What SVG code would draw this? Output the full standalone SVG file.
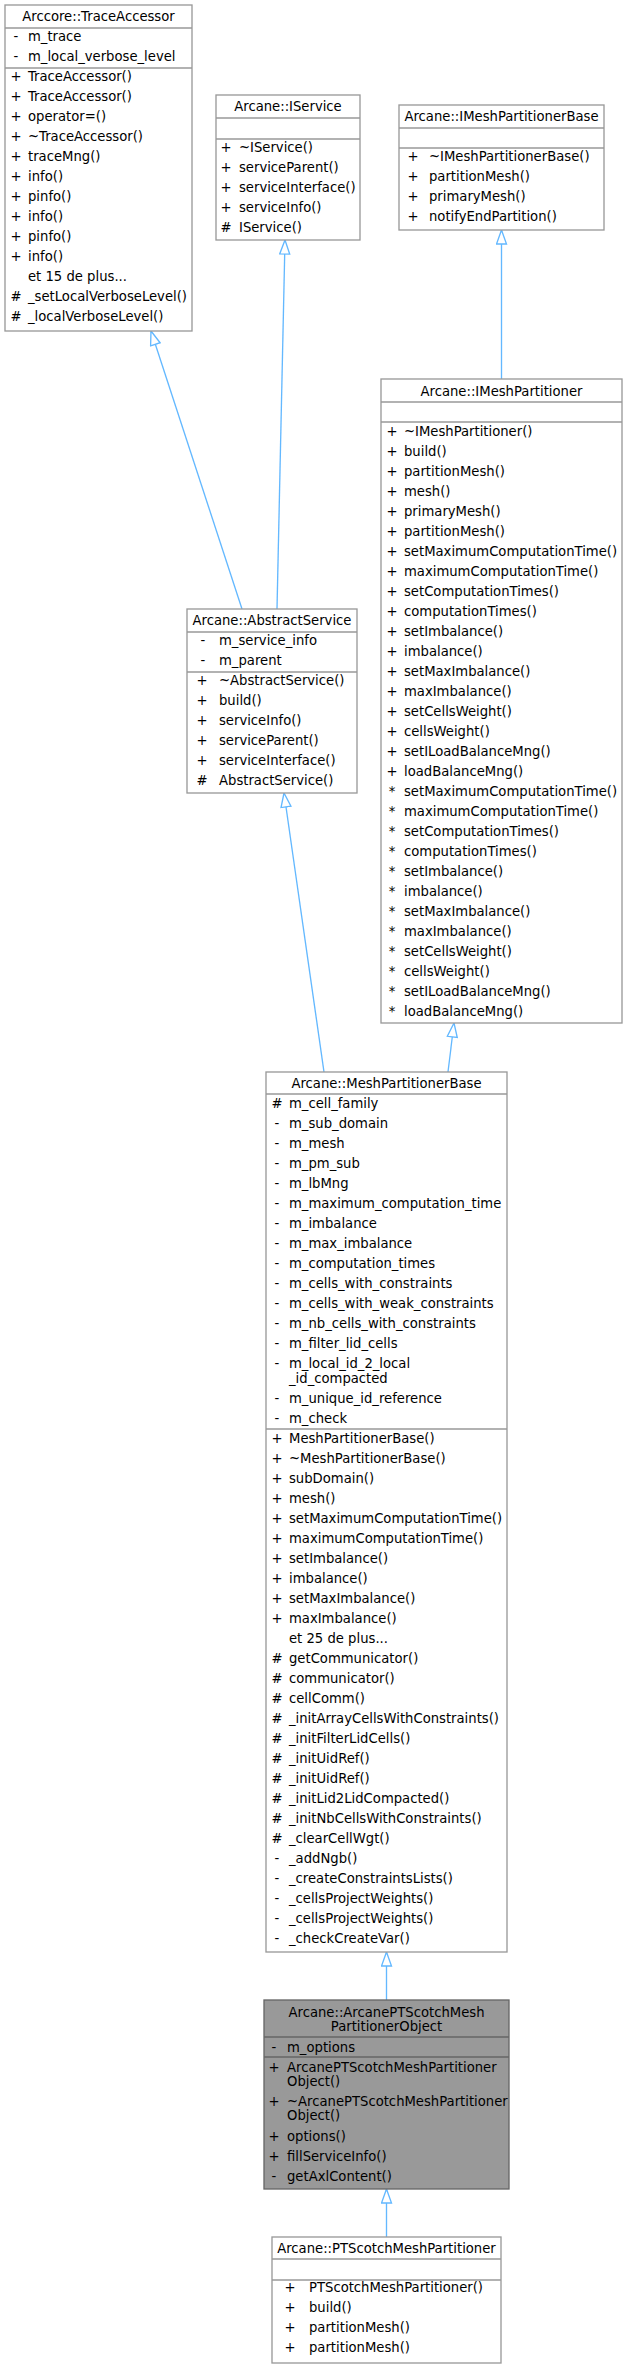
<svg xmlns="http://www.w3.org/2000/svg" width="627" height="2368" viewBox="0 0 627 2368">
<style>
.bx{fill:#ffffff;stroke:#999999;stroke-width:1.33}
.hl{fill:#999999;stroke:#666666;stroke-width:1.33}
.dv{stroke:#999999;stroke-width:1.33}
.dh{stroke:#666666;stroke-width:1.33}
text{font-family:"DejaVu Sans","Liberation Sans",sans-serif;font-size:13.2px;fill:#000000}
.c{text-anchor:middle}
.e{stroke:#63b8ff;stroke-width:1.33;fill:none;marker-end:url(#arr)}
</style>
<defs>
<marker id="arr" markerUnits="userSpaceOnUse" viewBox="-1 -1 16 12" markerWidth="16" markerHeight="12" refX="14" refY="5" orient="auto">
<path d="M14,5 L0,0 L0,10 Z" fill="#ffffff" stroke="#63b8ff" stroke-width="1.33"/>
</marker>
</defs>
<g id="edges">
<line class="e" x1="242" y1="609" x2="151" y2="331"/>
<line class="e" x1="277" y1="609" x2="285" y2="240"/>
<line class="e" x1="501.5" y1="379" x2="501.5" y2="230"/>
<line class="e" x1="324" y1="1072" x2="284" y2="793"/>
<line class="e" x1="448" y1="1072" x2="454" y2="1023"/>
<line class="e" x1="386.5" y1="2000" x2="386.5" y2="1952"/>
<line class="e" x1="386.5" y1="2237" x2="386.5" y2="2189"/>
</g>
<g id="TraceAccessor">
<rect class="bx" x="5" y="5" width="187" height="326"/>
<line class="dv" x1="5" y1="28" x2="192" y2="28"/>
<line class="dv" x1="5" y1="68" x2="192" y2="68"/>
<text class="c" x="98.5" y="21">Arccore::TraceAccessor</text>
<g class="c"><text class="c" x="16" y="41">-</text><text class="c" x="16" y="61">-</text>
<text class="c" x="16" y="81">+</text><text class="c" x="16" y="101">+</text><text class="c" x="16" y="121">+</text><text class="c" x="16" y="141">+</text><text class="c" x="16" y="161">+</text><text class="c" x="16" y="181">+</text><text class="c" x="16" y="201">+</text><text class="c" x="16" y="221">+</text><text class="c" x="16" y="241">+</text><text class="c" x="16" y="261">+</text><text class="c" x="16" y="301">#</text><text class="c" x="16" y="321">#</text></g>
<text x="28" y="41">m_trace</text>
<text x="28" y="61">m_local_verbose_level</text>
<text x="28" y="81">TraceAccessor()</text>
<text x="28" y="101">TraceAccessor()</text>
<text x="28" y="121">operator=()</text>
<text x="28" y="141">~TraceAccessor()</text>
<text x="28" y="161">traceMng()</text>
<text x="28" y="181">info()</text>
<text x="28" y="201">pinfo()</text>
<text x="28" y="221">info()</text>
<text x="28" y="241">pinfo()</text>
<text x="28" y="261">info()</text>
<text x="28" y="281">et 15 de plus...</text>
<text x="28" y="301">_setLocalVerboseLevel()</text>
<text x="28" y="321">_localVerboseLevel()</text>
</g>
<g id="IService">
<rect class="bx" x="216" y="95" width="144" height="145"/>
<line class="dv" x1="216" y1="118" x2="360" y2="118"/>
<line class="dv" x1="216" y1="139" x2="360" y2="139"/>
<text class="c" x="288" y="111">Arcane::IService</text>
<text class="c" x="226" y="152">+</text><text class="c" x="226" y="172">+</text><text class="c" x="226" y="192">+</text><text class="c" x="226" y="212">+</text><text class="c" x="226" y="232">#</text>
<text x="239" y="152">~IService()</text>
<text x="239" y="172">serviceParent()</text>
<text x="239" y="192">serviceInterface()</text>
<text x="239" y="212">serviceInfo()</text>
<text x="239" y="232">IService()</text>
</g>
<g id="IMeshPartitionerBase">
<rect class="bx" x="399" y="105" width="205" height="125"/>
<line class="dv" x1="399" y1="128" x2="604" y2="128"/>
<line class="dv" x1="399" y1="148" x2="604" y2="148"/>
<text class="c" x="501.5" y="121">Arcane::IMeshPartitionerBase</text>
<text class="c" x="413" y="161">+</text><text class="c" x="413" y="181">+</text><text class="c" x="413" y="201">+</text><text class="c" x="413" y="221">+</text>
<text x="429" y="161">~IMeshPartitionerBase()</text>
<text x="429" y="181">partitionMesh()</text>
<text x="429" y="201">primaryMesh()</text>
<text x="429" y="221">notifyEndPartition()</text>
</g>
<g id="IMeshPartitioner">
<rect class="bx" x="381" y="379" width="241" height="644"/>
<line class="dv" x1="381" y1="402" x2="622" y2="402"/>
<line class="dv" x1="381" y1="422" x2="622" y2="422"/>
<text class="c" x="501.5" y="395.5">Arcane::IMeshPartitioner</text>
<text class="c" x="392" y="435.5">+</text><text class="c" x="392" y="455.5">+</text><text class="c" x="392" y="475.5">+</text><text class="c" x="392" y="495.5">+</text><text class="c" x="392" y="515.5">+</text><text class="c" x="392" y="535.5">+</text><text class="c" x="392" y="555.5">+</text><text class="c" x="392" y="575.5">+</text><text class="c" x="392" y="595.5">+</text><text class="c" x="392" y="615.5">+</text><text class="c" x="392" y="635.5">+</text><text class="c" x="392" y="655.5">+</text><text class="c" x="392" y="675.5">+</text><text class="c" x="392" y="695.5">+</text><text class="c" x="392" y="715.5">+</text><text class="c" x="392" y="735.5">+</text><text class="c" x="392" y="755.5">+</text><text class="c" x="392" y="775.5">+</text>
<text class="c" x="392" y="795.5">*</text><text class="c" x="392" y="815.5">*</text><text class="c" x="392" y="835.5">*</text><text class="c" x="392" y="855.5">*</text><text class="c" x="392" y="875.5">*</text><text class="c" x="392" y="895.5">*</text><text class="c" x="392" y="915.5">*</text><text class="c" x="392" y="935.5">*</text><text class="c" x="392" y="955.5">*</text><text class="c" x="392" y="975.5">*</text><text class="c" x="392" y="995.5">*</text><text class="c" x="392" y="1015.5">*</text>
<text x="404" y="435.5">~IMeshPartitioner()</text>
<text x="404" y="455.5">build()</text>
<text x="404" y="475.5">partitionMesh()</text>
<text x="404" y="495.5">mesh()</text>
<text x="404" y="515.5">primaryMesh()</text>
<text x="404" y="535.5">partitionMesh()</text>
<text x="404" y="555.5">setMaximumComputationTime()</text>
<text x="404" y="575.5">maximumComputationTime()</text>
<text x="404" y="595.5">setComputationTimes()</text>
<text x="404" y="615.5">computationTimes()</text>
<text x="404" y="635.5">setImbalance()</text>
<text x="404" y="655.5">imbalance()</text>
<text x="404" y="675.5">setMaxImbalance()</text>
<text x="404" y="695.5">maxImbalance()</text>
<text x="404" y="715.5">setCellsWeight()</text>
<text x="404" y="735.5">cellsWeight()</text>
<text x="404" y="755.5">setILoadBalanceMng()</text>
<text x="404" y="775.5">loadBalanceMng()</text>
<text x="404" y="795.5">setMaximumComputationTime()</text>
<text x="404" y="815.5">maximumComputationTime()</text>
<text x="404" y="835.5">setComputationTimes()</text>
<text x="404" y="855.5">computationTimes()</text>
<text x="404" y="875.5">setImbalance()</text>
<text x="404" y="895.5">imbalance()</text>
<text x="404" y="915.5">setMaxImbalance()</text>
<text x="404" y="935.5">maxImbalance()</text>
<text x="404" y="955.5">setCellsWeight()</text>
<text x="404" y="975.5">cellsWeight()</text>
<text x="404" y="995.5">setILoadBalanceMng()</text>
<text x="404" y="1015.5">loadBalanceMng()</text>
</g>
<g id="AbstractService">
<rect class="bx" x="187" y="609" width="170" height="184"/>
<line class="dv" x1="187" y1="632" x2="357" y2="632"/>
<line class="dv" x1="187" y1="672" x2="357" y2="672"/>
<text class="c" x="272" y="625">Arcane::AbstractService</text>
<text class="c" x="203" y="645">-</text><text class="c" x="203" y="665">-</text>
<text class="c" x="202" y="685">+</text><text class="c" x="202" y="705">+</text><text class="c" x="202" y="725">+</text><text class="c" x="202" y="745">+</text><text class="c" x="202" y="765">+</text><text class="c" x="202" y="785">#</text>
<text x="219" y="645">m_service_info</text>
<text x="219" y="665">m_parent</text>
<text x="219" y="685">~AbstractService()</text>
<text x="219" y="705">build()</text>
<text x="219" y="725">serviceInfo()</text>
<text x="219" y="745">serviceParent()</text>
<text x="219" y="765">serviceInterface()</text>
<text x="219" y="785">AbstractService()</text>
</g>
<g id="MeshPartitionerBase">
<rect class="bx" x="266" y="1072" width="241" height="880"/>
<line class="dv" x1="266" y1="1094" x2="507" y2="1094"/>
<line class="dv" x1="266" y1="1429" x2="507" y2="1429"/>
<text class="c" x="386.5" y="1088">Arcane::MeshPartitionerBase</text>
<text class="c" x="277" y="1107.5">#</text><text class="c" x="277" y="1127.5">-</text><text class="c" x="277" y="1147.5">-</text><text class="c" x="277" y="1167.5">-</text><text class="c" x="277" y="1187.5">-</text><text class="c" x="277" y="1207.5">-</text><text class="c" x="277" y="1227.5">-</text><text class="c" x="277" y="1247.5">-</text><text class="c" x="277" y="1267.5">-</text><text class="c" x="277" y="1287.5">-</text><text class="c" x="277" y="1307.5">-</text><text class="c" x="277" y="1327.5">-</text><text class="c" x="277" y="1347.5">-</text><text class="c" x="277" y="1367.5">-</text><text class="c" x="277" y="1402.5">-</text><text class="c" x="277" y="1422.5">-</text>
<text x="289" y="1107.5">m_cell_family</text>
<text x="289" y="1127.5">m_sub_domain</text>
<text x="289" y="1147.5">m_mesh</text>
<text x="289" y="1167.5">m_pm_sub</text>
<text x="289" y="1187.5">m_lbMng</text>
<text x="289" y="1207.5">m_maximum_computation_time</text>
<text x="289" y="1227.5">m_imbalance</text>
<text x="289" y="1247.5">m_max_imbalance</text>
<text x="289" y="1267.5">m_computation_times</text>
<text x="289" y="1287.5">m_cells_with_constraints</text>
<text x="289" y="1307.5">m_cells_with_weak_constraints</text>
<text x="289" y="1327.5">m_nb_cells_with_constraints</text>
<text x="289" y="1347.5">m_filter_lid_cells</text>
<text x="289" y="1367.5">m_local_id_2_local</text>
<text x="289" y="1382.5">_id_compacted</text>
<text x="289" y="1402.5">m_unique_id_reference</text>
<text x="289" y="1422.5">m_check</text>
<text class="c" x="277" y="1442.5">+</text><text class="c" x="277" y="1462.5">+</text><text class="c" x="277" y="1482.5">+</text><text class="c" x="277" y="1502.5">+</text><text class="c" x="277" y="1522.5">+</text><text class="c" x="277" y="1542.5">+</text><text class="c" x="277" y="1562.5">+</text><text class="c" x="277" y="1582.5">+</text><text class="c" x="277" y="1602.5">+</text><text class="c" x="277" y="1622.5">+</text>
<text class="c" x="277" y="1662.5">#</text><text class="c" x="277" y="1682.5">#</text><text class="c" x="277" y="1702.5">#</text><text class="c" x="277" y="1722.5">#</text><text class="c" x="277" y="1742.5">#</text><text class="c" x="277" y="1762.5">#</text><text class="c" x="277" y="1782.5">#</text><text class="c" x="277" y="1802.5">#</text><text class="c" x="277" y="1822.5">#</text><text class="c" x="277" y="1842.5">#</text>
<text class="c" x="277" y="1862.5">-</text><text class="c" x="277" y="1882.5">-</text><text class="c" x="277" y="1902.5">-</text><text class="c" x="277" y="1922.5">-</text><text class="c" x="277" y="1942.5">-</text>
<text x="289" y="1442.5">MeshPartitionerBase()</text>
<text x="289" y="1462.5">~MeshPartitionerBase()</text>
<text x="289" y="1482.5">subDomain()</text>
<text x="289" y="1502.5">mesh()</text>
<text x="289" y="1522.5">setMaximumComputationTime()</text>
<text x="289" y="1542.5">maximumComputationTime()</text>
<text x="289" y="1562.5">setImbalance()</text>
<text x="289" y="1582.5">imbalance()</text>
<text x="289" y="1602.5">setMaxImbalance()</text>
<text x="289" y="1622.5">maxImbalance()</text>
<text x="289" y="1642.5">et 25 de plus...</text>
<text x="289" y="1662.5">getCommunicator()</text>
<text x="289" y="1682.5">communicator()</text>
<text x="289" y="1702.5">cellComm()</text>
<text x="289" y="1722.5">_initArrayCellsWithConstraints()</text>
<text x="289" y="1742.5">_initFilterLidCells()</text>
<text x="289" y="1762.5">_initUidRef()</text>
<text x="289" y="1782.5">_initUidRef()</text>
<text x="289" y="1802.5">_initLid2LidCompacted()</text>
<text x="289" y="1822.5">_initNbCellsWithConstraints()</text>
<text x="289" y="1842.5">_clearCellWgt()</text>
<text x="289" y="1862.5">_addNgb()</text>
<text x="289" y="1882.5">_createConstraintsLists()</text>
<text x="289" y="1902.5">_cellsProjectWeights()</text>
<text x="289" y="1922.5">_cellsProjectWeights()</text>
<text x="289" y="1942.5">_checkCreateVar()</text>
</g>
<g id="ArcanePTScotchMeshPartitionerObject">
<rect class="hl" x="264" y="2000" width="245" height="189"/>
<line class="dh" x1="264" y1="2037" x2="509" y2="2037"/>
<line class="dh" x1="264" y1="2057" x2="509" y2="2057"/>
<text class="c" x="386.5" y="2016.5">Arcane::ArcanePTScotchMesh</text>
<text class="c" x="386.5" y="2030.5">PartitionerObject</text>
<text class="c" x="274" y="2051.5">-</text>
<text x="287" y="2051.5">m_options</text>
<text class="c" x="274" y="2071.5">+</text><text class="c" x="274" y="2105.5">+</text><text class="c" x="274" y="2140.5">+</text><text class="c" x="274" y="2160.5">+</text><text class="c" x="274" y="2180.5">-</text>
<text x="287" y="2071.5">ArcanePTScotchMeshPartitioner</text>
<text x="287" y="2085.5">Object()</text>
<text x="287" y="2105.5">~ArcanePTScotchMeshPartitioner</text>
<text x="287" y="2119.5">Object()</text>
<text x="287" y="2140.5">options()</text>
<text x="287" y="2160.5">fillServiceInfo()</text>
<text x="287" y="2180.5">getAxlContent()</text>
</g>
<g id="PTScotchMeshPartitioner">
<rect class="bx" x="272" y="2237" width="229" height="126"/>
<line class="dv" x1="272" y1="2259" x2="501" y2="2259"/>
<line class="dv" x1="272" y1="2280" x2="501" y2="2280"/>
<text class="c" x="386.5" y="2252.5">Arcane::PTScotchMeshPartitioner</text>
<text class="c" x="290" y="2291.5">+</text><text class="c" x="290" y="2311.5">+</text><text class="c" x="290" y="2331.5">+</text><text class="c" x="290" y="2351.5">+</text>
<text x="309" y="2291.5">PTScotchMeshPartitioner()</text>
<text x="309" y="2311.5">build()</text>
<text x="309" y="2331.5">partitionMesh()</text>
<text x="309" y="2351.5">partitionMesh()</text>
</g>
</svg>
